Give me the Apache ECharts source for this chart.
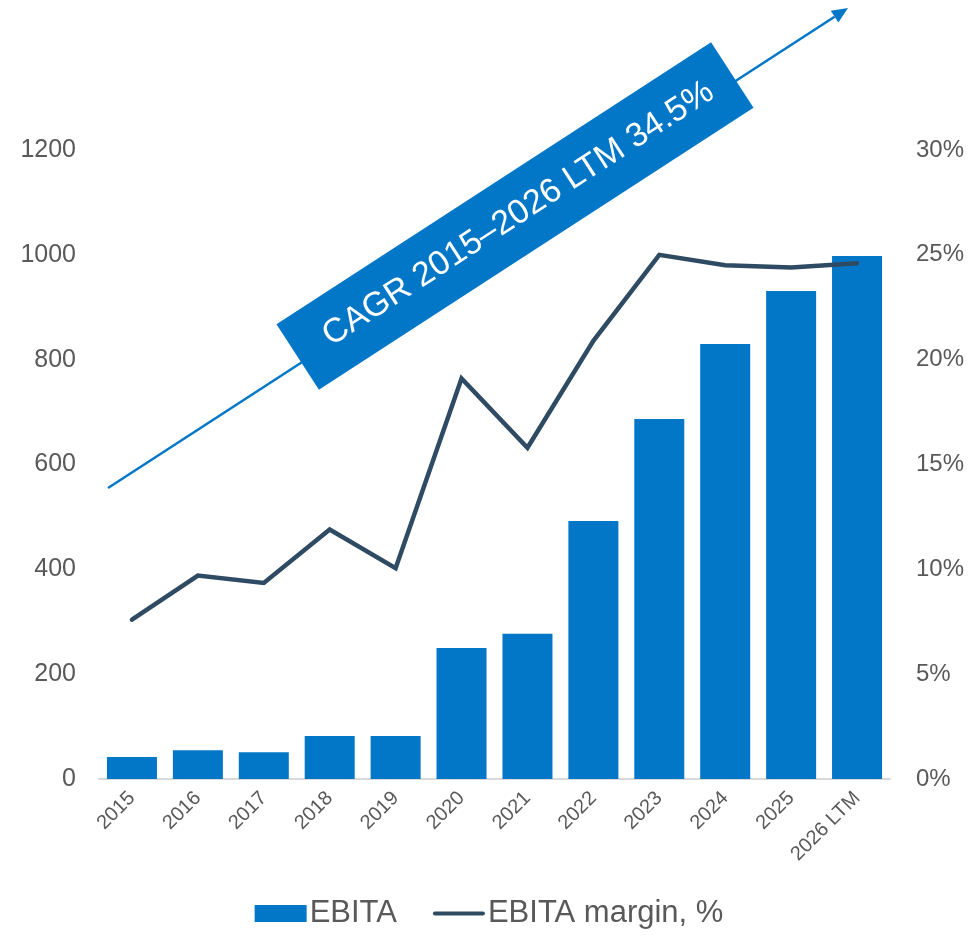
<!DOCTYPE html>
<html>
<head>
<meta charset="utf-8">
<script src="https://cdn.jsdelivr.net/npm/echarts@6/dist/echarts.min.js"></script>
<style>
html,body{margin:0;padding:0;background:#fff;}
#chart{width:978px;height:940px;}
</style>
</head>
<body>
<div id="chart"></div>
<script>
var categories = ['2015','2016','2017','2018','2019','2020','2021','2022','2023','2024','2025','2026 LTM'];
var ebita = [42, 55, 51, 82, 82, 250, 277, 492, 687, 830, 931, 998];
var marginPct = [7.6, 9.7, 9.35, 11.9, 10.05, 19.1, 15.8, 20.9, 25.0, 24.5, 24.4, 24.6];
var leftTicks = {min: 0, max: 1200, interval: 200};
var rightTicks = {min: 0, max: 30, interval: 5};
var cagrText = 'CAGR 2015\u20132026 LTM 34.5%';

var BLUE = '#0277C8';
var SLATE = '#2F4B63';
var GREY = '#595959';
var FONT = '"Liberation Sans", Arial, sans-serif';

var chart = echarts.init(document.getElementById('chart'), null, {renderer: 'canvas'});

var ang = Math.atan2(488 - 8, 848 - 108); // arrow angle
var headLen = 16, headW = 7;
var tipX = 848, tipY = 8;
var bx = tipX - headLen * Math.cos(ang), by = tipY + headLen * Math.sin(ang);
var px = Math.sin(ang), py = Math.cos(ang);

var option = {
  backgroundColor: '#ffffff',
  textStyle: {fontFamily: FONT},
  grid: {left: 99, right: 88, top: 150, bottom: 161, containLabel: false},
  legend: {
    bottom: 6,
    left: 'center',
    itemWidth: 52,
    itemHeight: 17,
    itemGap: 36,
    symbolKeepAspect: true,
    textStyle: {fontSize: 31, color: GREY, fontFamily: FONT, padding: [0, 0, 0, -2]},
    data: [
      {name: 'EBITA', icon: 'rect'},
      {name: 'EBITA margin, %', icon: 'path://M2,0 L55,0 A2,2 0 0 1 55,4.5 L2,4.5 A2,2 0 0 1 2,0 Z', itemStyle: {color: SLATE}}
    ]
  },
  xAxis: {
    type: 'category',
    data: categories,
    axisLine: {show: true, lineStyle: {color: '#D9D9D9', width: 2}},
    axisTick: {show: false},
    axisLabel: {rotate: 45, fontSize: 20, color: GREY, margin: 16, interval: 0, fontFamily: FONT}
  },
  yAxis: [
    {
      type: 'value',
      min: leftTicks.min, max: leftTicks.max, interval: leftTicks.interval,
      axisLine: {show: false}, axisTick: {show: false}, splitLine: {show: false},
      axisLabel: {fontSize: 25, color: GREY, margin: 23, fontFamily: FONT, formatter: function (v) { return String(v); }}
    },
    {
      type: 'value',
      min: rightTicks.min, max: rightTicks.max, interval: rightTicks.interval,
      axisLine: {show: false}, axisTick: {show: false}, splitLine: {show: false},
      axisLabel: {fontSize: 24, color: GREY, margin: 26, formatter: '{value}%', fontFamily: FONT}
    }
  ],
  series: [
    {
      name: 'EBITA',
      type: 'bar',
      data: ebita,
      barWidth: 50,
      itemStyle: {color: BLUE},
      z: 2
    },
    {
      name: 'EBITA margin, %',
      type: 'line',
      yAxisIndex: 1,
      data: marginPct,
      symbol: 'none',
      lineStyle: {color: SLATE, width: 4.5, cap: 'round', join: 'miter'},
      itemStyle: {color: SLATE},
      z: 4
    }
  ],
  graphic: [
    {
      type: 'line',
      shape: {x1: 108, y1: 488, x2: bx, y2: by},
      style: {stroke: BLUE, lineWidth: 2.5},
      z: 3
    },
    {
      type: 'polygon',
      shape: {points: [[tipX, tipY], [bx + px * headW, by + py * headW], [bx - px * headW, by - py * headW]]},
      style: {fill: BLUE},
      z: 3
    },
    {
      type: 'group',
      x: 515, y: 216,
      rotation: ang,
      z: 5,
      children: [
        {
          type: 'rect',
          shape: {x: -259, y: -39, width: 518, height: 78},
          style: {fill: BLUE},
          z: 5
        },
        {
          type: 'text',
          x: 4, y: 0,
          z: 6,
          style: {
            text: cagrText,
            fill: '#ffffff',
            fontSize: 34,
            fontFamily: FONT,
            align: 'center',
            verticalAlign: 'middle',
            textAlign: 'center',
            textVerticalAlign: 'middle'
          }
        }
      ]
    }
  ]
};
chart.setOption(option);
</script>
</body>
</html>
